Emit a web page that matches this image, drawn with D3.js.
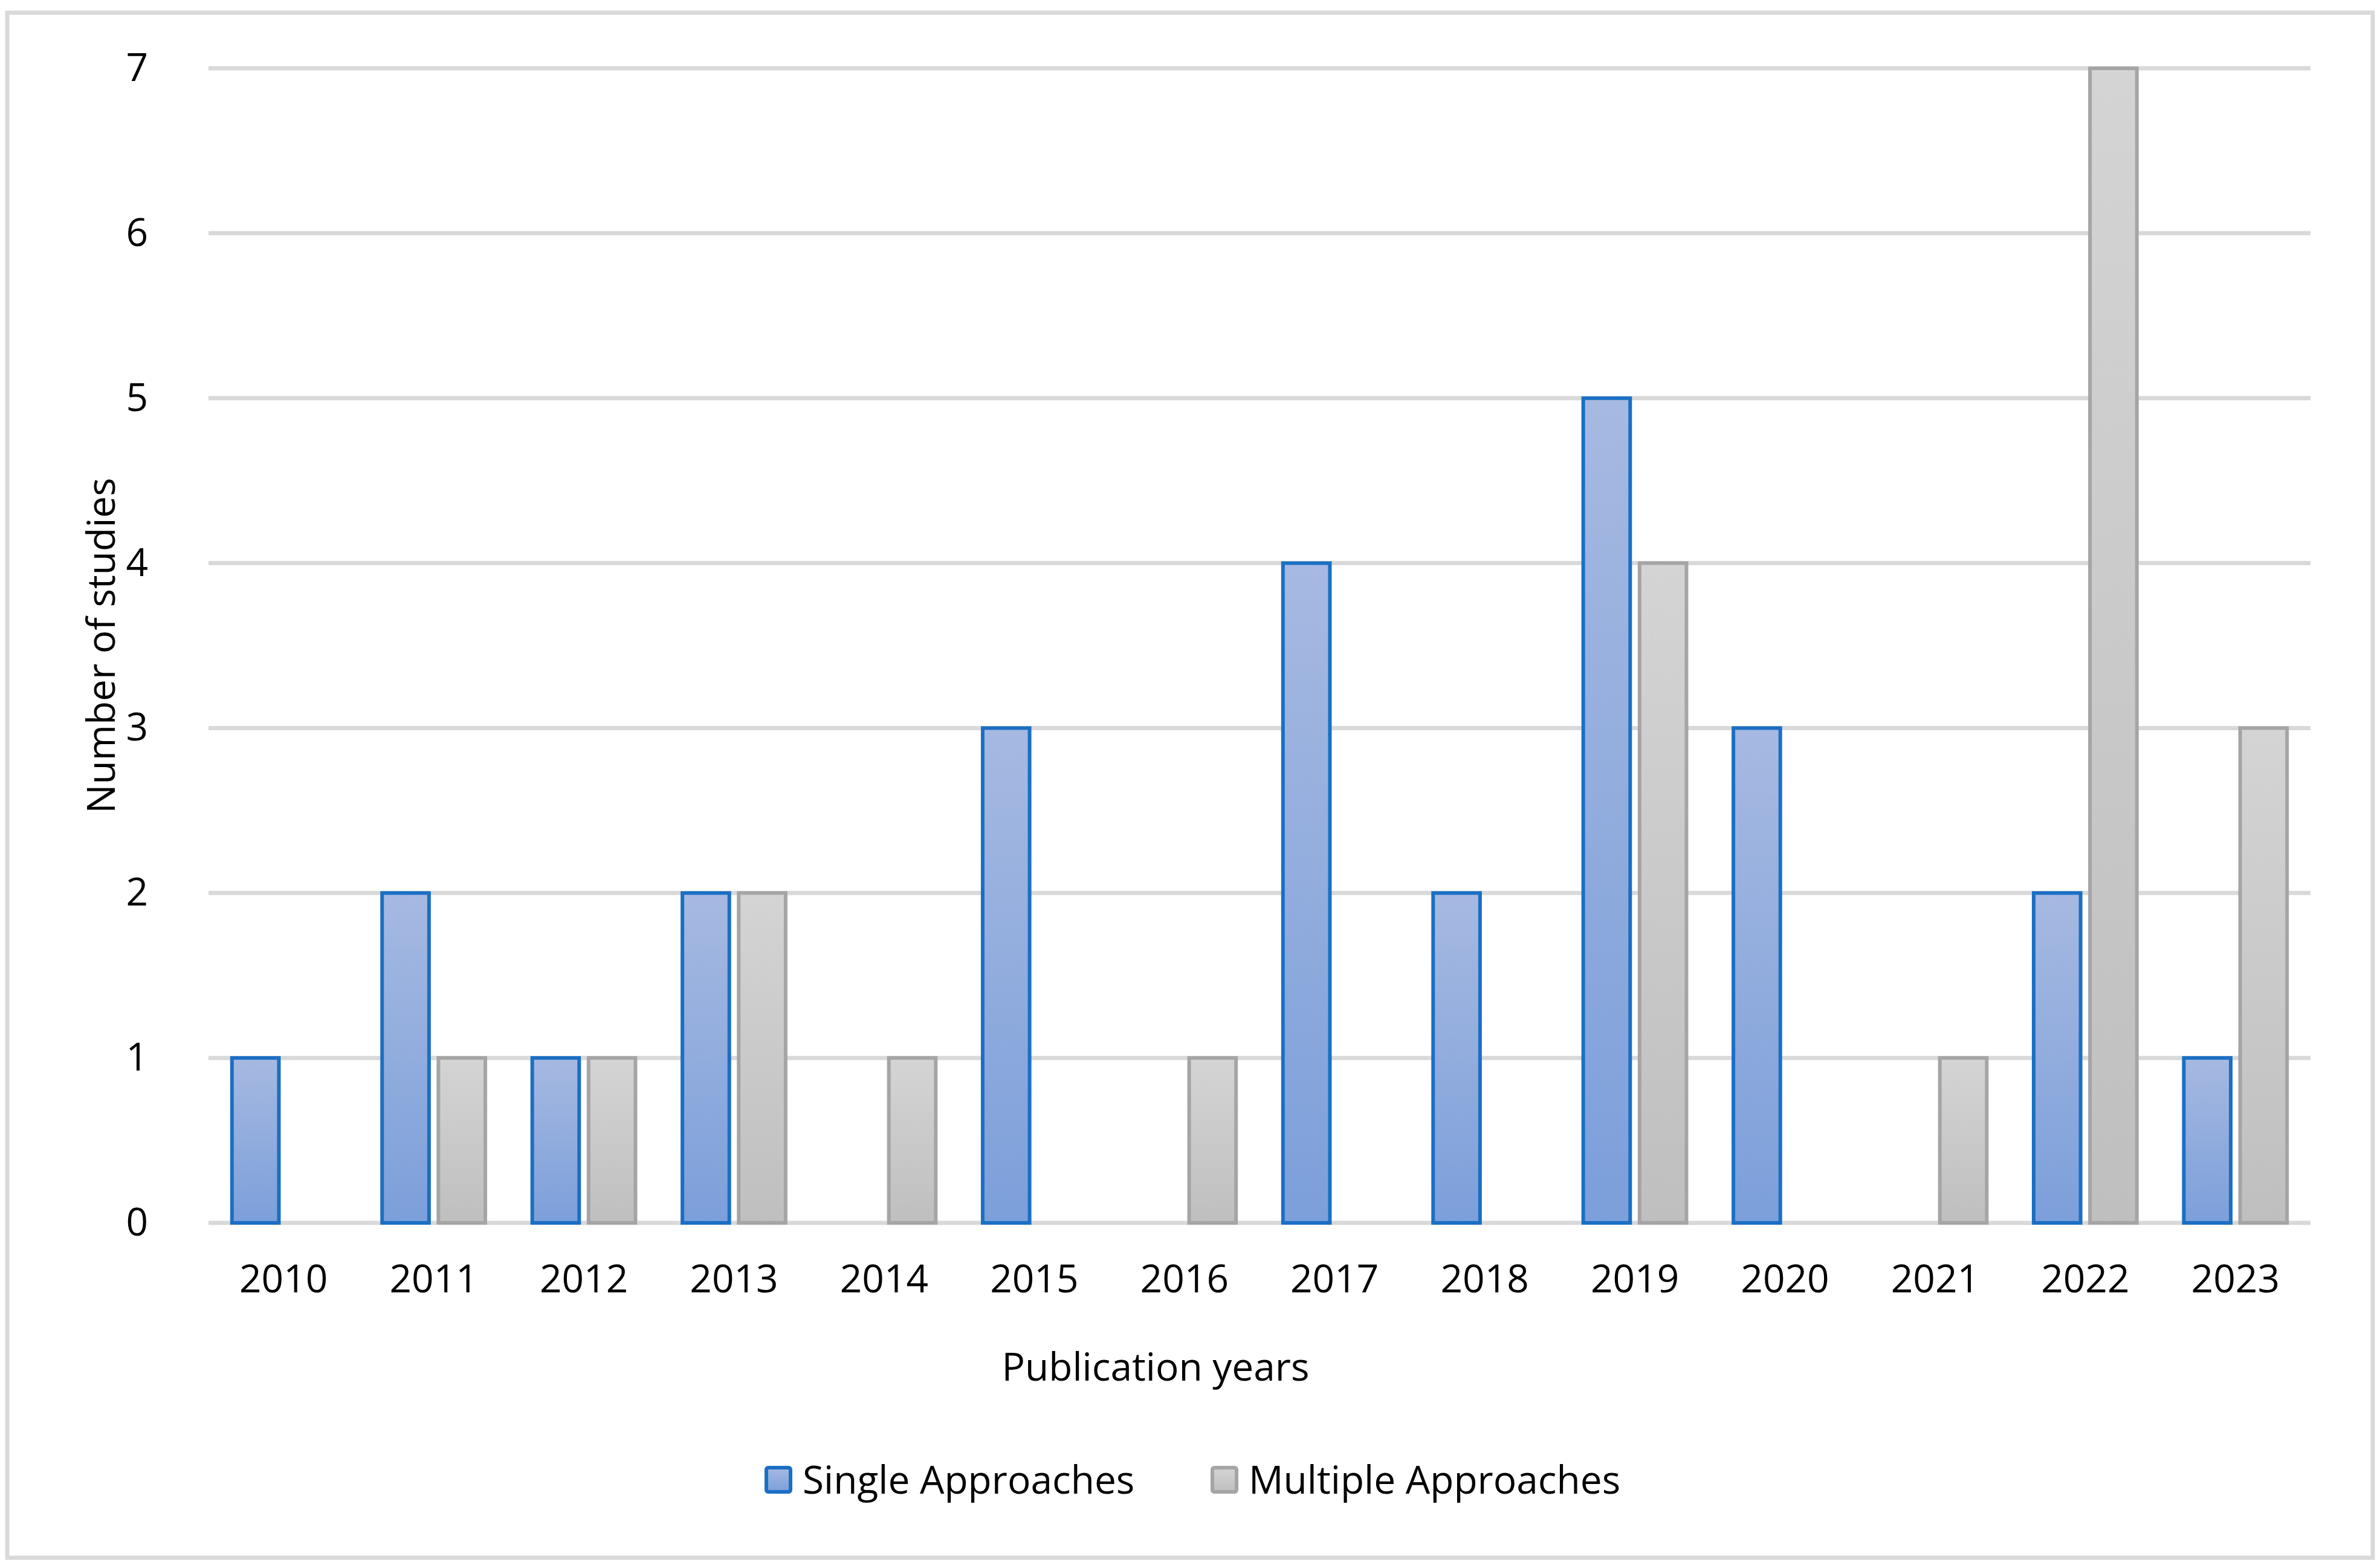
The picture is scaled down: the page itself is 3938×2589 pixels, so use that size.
<!DOCTYPE html>
<html>
<head>
<meta charset="utf-8">
<script src="https://cdn.jsdelivr.net/npm/d3@7"></script>
<style>
  html, body { margin: 0; padding: 0; background: #fff; overflow: hidden; }
  svg { display: block; }
  text { font-family: "Open Sans", "Noto Sans", sans-serif; fill: #000; }
</style>
</head>
<body>
<section></section>
<script>
"use strict";

//Chart data
const years = ["2010", "2011", "2012", "2013", "2014", "2015", "2016", "2017", "2018", "2019", "2020", "2021", "2022", "2023"];
const singleApproaches = [1, 2, 1, 2, 0, 3, 0, 4, 2, 5, 3, 0, 2, 1];
const multipleApproaches = [0, 1, 1, 2, 1, 0, 1, 0, 0, 4, 0, 1, 7, 3];
const seriesNames = ["Single Approaches", "Multiple Approaches"];
const yTicks = [0, 1, 2, 3, 4, 5, 6, 7];

const w = 3938;
const h = 2589;
const margin = { top: 113, bottom: 566, left: 345, right: 115 };
const innerWidth = w - margin.left - margin.right;
const innerHeight = h - margin.top - margin.bottom;

const svg = d3.select("section").append("svg").attr("width", w).attr("height", h);

//Gradients for bars
const defs = svg.append("defs");
const grad = (id, top, bottom) => {
  const g = defs.append("linearGradient").attr("id", id).attr("x1", 0).attr("y1", 0).attr("x2", 0).attr("y2", 1);
  g.append("stop").attr("offset", "0%").attr("stop-color", top);
  g.append("stop").attr("offset", "100%").attr("stop-color", bottom);
};
grad("gSingle", "#a6b9e1", "#7c9fda");
grad("gMultiple", "#d4d4d4", "#bfbfbf");
const fills = ["url(#gSingle)", "url(#gMultiple)"];
const strokes = ["#1b6fc4", "#a5a5a5"];

//Chart border
svg.append("rect")
  .attr("x", 12).attr("y", 21)
  .attr("width", w - 24).attr("height", h - 33)
  .attr("fill", "none").attr("stroke", "#d9d9d9").attr("stroke-width", 7);

const container = svg.append("g").attr("transform", `translate(${margin.left}, ${margin.top})`);

//Scales
const xScale = d3.scaleBand().domain(years).range([0, innerWidth]);
const bw = xScale.bandwidth() / 3.2;
const xSub = (i) => xScale.bandwidth() / 2 - 1.1 * bw + i * 1.2 * bw;
const yScale = d3.scaleLinear().domain([0, 7]).range([innerHeight, 0]);

//Gridlines
container.append("g")
  .selectAll("line")
  .data(yTicks)
  .enter()
  .append("line")
  .attr("x1", 0).attr("x2", innerWidth)
  .attr("y1", (d) => yScale(d)).attr("y2", (d) => yScale(d))
  .attr("stroke", "#d9d9d9").attr("stroke-width", 7);

//y Axis
container.append("g")
  .call(d3.axisLeft(yScale).tickValues(yTicks).tickFormat(d3.format("d")).tickSize(0).tickPadding(100))
  .attr("font-size", 64)
  .attr("font-family", null)
  .call((g) => g.select(".domain").remove())
  .selectAll("text")
  .attr("fill", "#000");

//x Axis
container.append("g")
  .attr("transform", `translate(0, ${innerHeight})`)
  .call(d3.axisBottom(xScale).tickSize(0).tickPadding(70))
  .attr("font-size", 64)
  .attr("font-family", null)
  .call((g) => g.select(".domain").remove())
  .selectAll("text")
  .attr("fill", "#000");

//Bars
const series = [singleApproaches, multipleApproaches];
series.forEach((values, s) => {
  container.append("g")
    .selectAll("rect")
    .data(values.map((v, i) => ({ year: years[i], value: v })).filter((d) => d.value > 0))
    .enter()
    .append("rect")
    .attr("x", (d) => xScale(d.year) + xSub(s))
    .attr("y", (d) => yScale(d.value))
    .attr("width", bw)
    .attr("height", (d) => yScale(0) - yScale(d.value))
    .attr("fill", fills[s])
    .attr("stroke", strokes[s])
    .attr("stroke-width", 6);
});

//Axis titles
svg.append("text")
  .attr("x", 1912)
  .attr("y", 2284)
  .attr("text-anchor", "middle")
  .attr("font-size", 64)
  .text("Publication years");

svg.append("text")
  .attr("transform", `translate(190, ${margin.top + innerHeight / 2}) rotate(-90)`)
  .attr("text-anchor", "middle")
  .attr("font-size", 64)
  .text("Number of studies");

//Legend
const legendX = [1268, 2006];
const legend = svg.append("g");
seriesNames.forEach((name, i) => {
  legend.append("rect")
    .attr("x", legendX[i]).attr("y", 2428)
    .attr("width", 40).attr("height", 40)
    .attr("rx", 3)
    .attr("fill", fills[i])
    .attr("stroke", strokes[i])
    .attr("stroke-width", 6);
  legend.append("text")
    .attr("x", legendX[i] + 60)
    .attr("y", 2471)
    .attr("font-size", 64)
    .text(name);
});
</script>
</body>
</html>
